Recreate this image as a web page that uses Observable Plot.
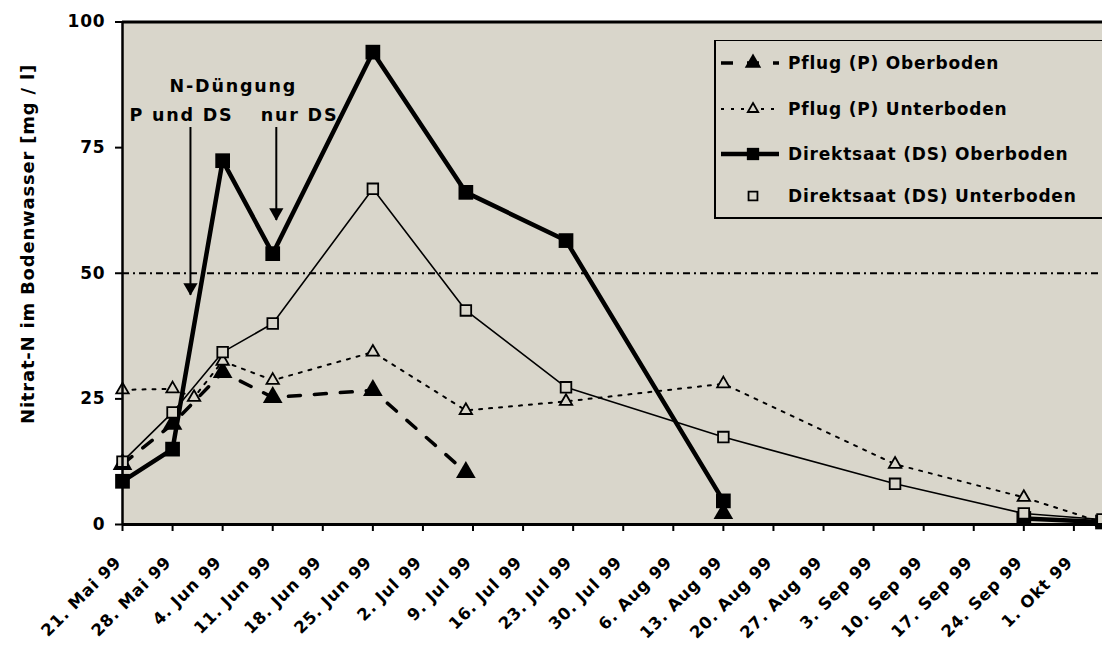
<!DOCTYPE html>
<html>
<head>
<meta charset="utf-8">
<script src="https://cdn.jsdelivr.net/npm/d3@7"></script>
<script src="https://cdn.jsdelivr.net/npm/@observablehq/plot@0.6"></script>
<style>
  body { margin: 0; background: #ffffff; }
  #wrap { position: relative; width: 1102px; height: 646px; overflow: hidden; background: #ffffff; }
  #wrap svg text { font-weight: bold; letter-spacing: 0.8px; }
  #legend { position: absolute; left: 714px; top: 40px; width: 420px; height: 176px;
            background: #d9d6cb; border-left: 2px solid #000; border-bottom: 2px solid #000; border-top: 1px solid #000; }
  #legend text { font-family: "DejaVu Sans", sans-serif; font-size: 17px; font-weight: bold; letter-spacing: 0.9px; }
</style>
</head>
<body>
<div id="wrap"></div>
<script>
// ---------------- data ----------------
const sampleDates = ["1999-05-21","1999-05-28","1999-05-31","1999-06-04","1999-06-11","1999-06-25",
                     "1999-07-08","1999-07-22","1999-08-13","1999-09-06","1999-09-24","1999-10-05"];
// null = not measured on that date; NaN = line interrupted there
const pflugOber  = [12.0, 20.0, null, 30.3, 25.3, 26.7, 10.4, NaN, 2.2, null, null, null];
const pflugUnter = [26.8, 27.0, 25.3, 32.5, 28.7, 34.3, 22.7, 24.5, 28.0, 12.0, 5.4, 0.4];
const dsOber     = [8.6, 15.0, null, 72.4, 53.9, 94.0, 66.1, 56.5, 4.7, NaN, 1.2, 0.5];
const dsUnter    = [12.5, 22.3, null, 34.3, 40.0, 66.8, 42.6, 27.3, 17.4, 8.1, 2.2, 1.0];
const seriesNames = ["Pflug (P) Oberboden", "Pflug (P) Unterboden",
                     "Direktsaat (DS) Oberboden", "Direktsaat (DS) Unterboden"];

const tickDates  = ["1999-05-21","1999-05-28","1999-06-04","1999-06-11","1999-06-18","1999-06-25",
                    "1999-07-02","1999-07-09","1999-07-16","1999-07-23","1999-07-30","1999-08-06",
                    "1999-08-13","1999-08-20","1999-08-27","1999-09-03","1999-09-10","1999-09-17",
                    "1999-09-24","1999-10-01"];
const tickLabels = ["21. Mai 99","28. Mai 99","4. Jun 99","11. Jun 99","18. Jun 99","25. Jun 99",
                    "2. Jul 99","9. Jul 99","16. Jul 99","23. Jul 99","30. Jul 99","6. Aug 99",
                    "13. Aug 99","20. Aug 99","27. Aug 99","3. Sep 99","10. Sep 99","17. Sep 99",
                    "24. Sep 99","1. Okt 99"];
const yTicks = [0, 25, 50, 75, 100];
const yTitle = "Nitrat-N im Bodenwasser [mg / l]";

// annotation: fertilisation dates
const annoTitle   = "N-Düngung";
const annoLabels  = ["P und DS", "nur DS"];
const arrowDates  = ["1999-05-30T12:00", "1999-06-11T12:00"];
const arrowTop    = [79, 79];
const arrowTip    = [45.6, 60.5];

// ---------------- build ----------------
const BG = "#d9d6cb";
const parse = s => new Date(s + (s.length === 10 ? "T00:00Z" : "Z"));
const allSeries = [pflugOber, pflugUnter, dsOber, dsUnter];
const rowsFor = vals => sampleDates.map((d, i) => ({date: parse(d), value: vals[i]})).filter(r => r.value !== null);
const seriesRows = allSeries.map(rowsFor);
const pointRows = seriesRows.map(rows => rows.filter(r => Number.isFinite(r.value)));

const styles = [
  {line: {strokeWidth: 3.5, strokeDasharray: "12,14"}, dot: {symbol: "triangle", r: 7.3, fill: "#000", stroke: "none"}},
  {line: {strokeWidth: 2, strokeDasharray: "3,7"},      dot: {symbol: "triangle", r: 4.6, fill: BG, stroke: "#000", strokeWidth: 1.8}},
  {line: {strokeWidth: 4.5},                            dot: {symbol: "square", r: 8.3, fill: "#000", stroke: "none"}},
  {line: {strokeWidth: 1.6},                            dot: {symbol: "square", r: 6, fill: BG, stroke: "#000", strokeWidth: 1.8}}
];

const labelMap = new Map(tickDates.map((d, i) => [+parse(d), tickLabels[i]]));
const arrows = arrowDates.map((d, i) => ({date: parse(d), top: arrowTop[i], tip: arrowTip[i]}));
// label placement (layout): P und DS left of first arrow, nur DS right of second
const annoRows = [
  {date: parse("1999-05-29T06:00"), v: 81.5, label: annoLabels[0]},
  {date: parse("1999-06-14T18:00"), v: 81.5, label: annoLabels[1]},
  {date: parse("1999-06-05T12:00"), v: 87.2, label: annoTitle}
];

const seriesMarks = [];
seriesRows.forEach((rows, k) => {
  seriesMarks.push(Plot.line(rows, {x: "date", y: "value", stroke: "#000", ...styles[k].line}));
  seriesMarks.push(Plot.dot(pointRows[k], {x: "date", y: "value", ...styles[k].dot}));
});

const xTicks = tickDates.map(parse);
const chart = Plot.plot({
  width: 1102, height: 646,
  marginLeft: 122, marginRight: 0, marginTop: 21.5, marginBottom: 122,
  x: {type: "utc", domain: [parse("1999-05-21"), parse("1999-10-05")]},
  y: {domain: [0, 100]},
  style: {fontFamily: "DejaVu Sans, sans-serif", fontSize: "17px", background: "#ffffff", color: "#000"},
  marks: [
    Plot.frame({fill: BG, stroke: null}),
    Plot.ruleY([50], {stroke: "#000", strokeWidth: 2, strokeDasharray: "7,4,2,4"}),
    Plot.ruleY([100], {stroke: "#000", strokeWidth: 3}),
    Plot.axisY({ticks: yTicks, tickSize: 7, tickPadding: 10, label: null, strokeWidth: 2}),
    Plot.axisX({ticks: xTicks, tickFormat: () => "", tickSize: 7, label: null, strokeWidth: 2}),
    Plot.axisX({ticks: xTicks, tickFormat: d => labelMap.get(+d), tickRotate: -45,
                tickSize: 0, tickPadding: 35, dx: -4, label: null, fontSize: 16.5}),
    Plot.text([yTitle], {frameAnchor: "top-left", dx: -101.5, dy: 222, rotate: -90, textAnchor: "middle",
                         fontSize: 18, fontWeight: "bold"}),
    Plot.ruleX(arrows, {x: "date", y1: "top", y2: "tip", stroke: "#000", strokeWidth: 2}),
    Plot.dot(arrows, {x: "date", y: "tip", symbol: "triangle", rotate: 180, r: 5.3, fill: "#000", stroke: "none", dy: -8}),
    Plot.text(annoRows, {x: "date", y: "v", text: "label", fontSize: 17.5, lineAnchor: "middle"}),
    ...seriesMarks,
    Plot.ruleX([parse("1999-05-21")], {stroke: "#000", strokeWidth: 2.5}),
    Plot.ruleY([0], {stroke: "#000", strokeWidth: 3})
  ]
});
document.getElementById("wrap").appendChild(chart);
d3.select(chart).selectAll("text").filter(function () {
  return annoRows.some(r => r.label === this.textContent);
}).style("letter-spacing", "1.8px");

// ---------------- legend (inside plot area, top right) ----------------
const legendDiv = d3.select("#wrap").append("div").attr("id", "legend");
const lsvg = legendDiv.append("svg").attr("width", 420).attr("height", 176);
const rowY = [22, 68, 113, 155];
seriesNames.forEach((name, k) => {
  const g = lsvg.append("g").attr("transform", `translate(0,${rowY[k]})`);
  const st = styles[k];
  if (k !== 3) {
    g.append("line").attr("x1", 5).attr("x2", 63).attr("y1", 0).attr("y2", 0)
      .attr("stroke", "#000").attr("stroke-width", st.line.strokeWidth)
      .attr("stroke-dasharray", st.line.strokeDasharray || null);
  }
  const sym = st.dot.symbol === "triangle" ? d3.symbolTriangle : d3.symbolSquare;
  g.append("path").attr("transform", "translate(37,0)")
    .attr("d", d3.symbol(sym, st.dot.r * st.dot.r * Math.PI * 0.7)())
    .attr("fill", st.dot.fill).attr("stroke", st.dot.stroke === "none" ? null : "#000")
    .attr("stroke-width", st.dot.strokeWidth || null);
  g.append("text").attr("x", 72).attr("y", 0).attr("dy", "0.35em").text(name);
});
</script>
</body>
</html>
